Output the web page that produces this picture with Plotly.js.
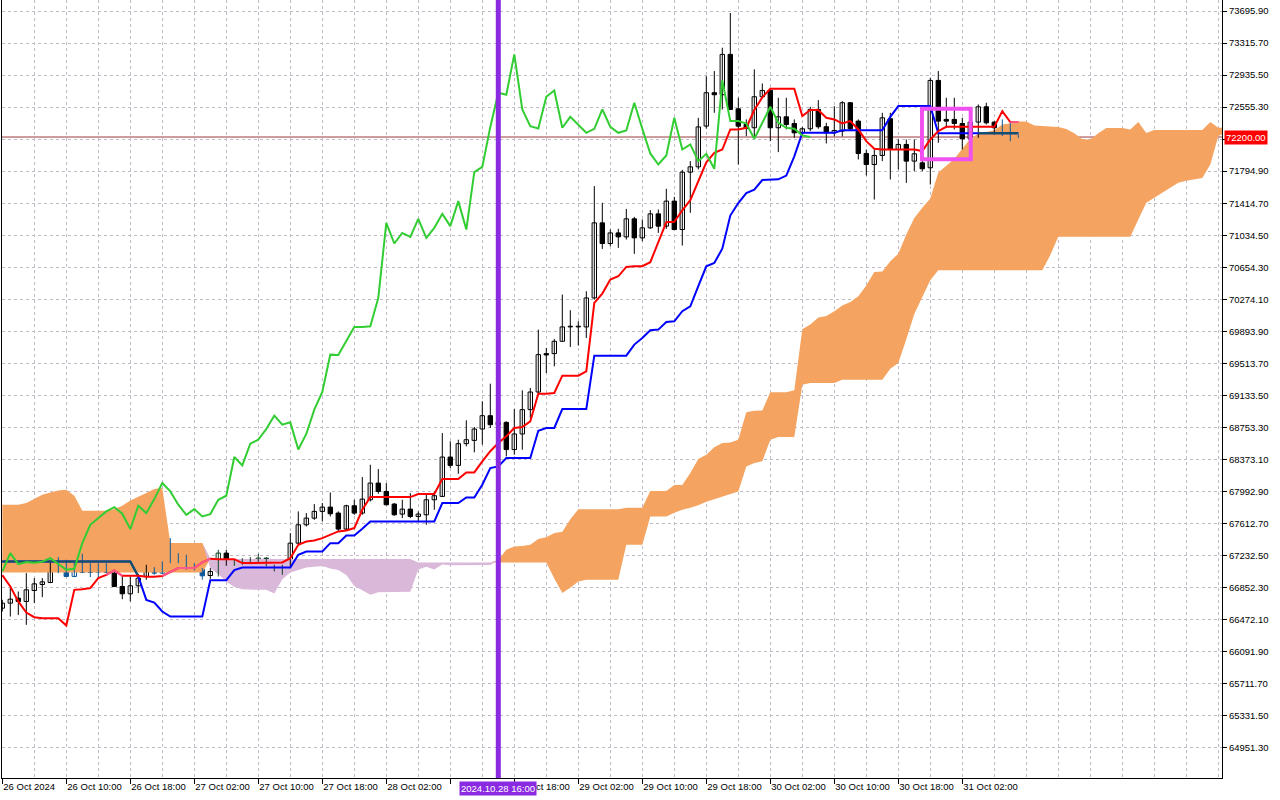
<!DOCTYPE html>
<html><head><meta charset="utf-8">
<script src="https://cdn.plot.ly/plotly-3.0.1.min.js"></script>
<style>html,body{margin:0;padding:0;background:#fff}#chart{width:1280px;height:800px}</style>
</head><body><div id="chart"></div>
<script>
// ---- BTC hourly candles, 26 Oct 2024 02:00 onwards (bar index 0..127) ----
const opens = [66607,66667,66726,66687,66817,66888,66912,67102,67150,66984,
67110,67039,67035,67118,67023,66865,66778,66873,66984,67055,
67023,67150,67253,67162,67110,67071,66995,67035,67261,67130,
67162,67173,67173,67201,67094,67102,67102,67379,67597,67676,
67756,67807,67736,67546,67823,67736,67894,68092,67993,67843,
67724,67783,67696,67716,67894,67934,68401,68302,68560,68599,
68734,68892,68785,68813,68490,68675,68964,69173,69629,69629,
69775,69946,69946,69946,70290,71181,70936,71062,71015,71229,
71003,71122,71288,71142,71439,71102,71783,71846,72330,72726,
72702,73181,72535,72349,72310,72678,72753,72310,72440,72361,
72250,72298,72528,72322,72250,72270,72607,72389,72005,71874,
71981,72417,72052,72112,71914,71894,71835,72872,72409,72409,
72361,72179,72377,72559,72377,72290,72298,72219];
const highs = [66706,66845,66805,67023,66964,66964,67150,67213,67182,67150,
67253,67142,67142,67142,67055,66984,66984,67015,67122,67094,
67162,67439,67261,67241,67142,67083,67083,67300,67300,67189,
67201,67213,67253,67213,67122,67122,67498,67756,67736,67843,
67855,67981,67756,67835,67894,68164,68310,68259,68092,67855,
67894,67973,67756,67953,67993,68686,68587,68607,68837,68758,
69063,69272,68950,68825,68971,69193,69221,69914,69696,69803,
70330,70144,70013,70369,71617,71419,71102,71110,71347,71252,
71221,71332,71340,71585,71490,71810,71914,72428,72923,72983,
73260,73672,72666,72409,73003,72836,72785,72666,72666,72409,
72321,72559,72638,72369,72567,72626,72615,72409,72052,72052,
72488,72488,72171,72171,72171,72013,72904,72983,72666,72666,
72428,72400,72587,72607,72389,72409,72369,72230];
const lows = [66568,66508,66528,66409,66667,66738,66904,67023,66976,66976,
67023,66976,66964,67023,66857,66714,66687,66786,66944,67003,
67015,67142,67142,67063,67055,66944,66956,66983,67110,67110,
67122,67130,67150,67102,67043,67003,67083,67360,67577,67656,
67637,67696,67518,67530,67716,67716,67874,67966,67827,67704,
67676,67676,67637,67597,67775,67926,68270,68203,68528,68457,
68548,68746,68700,68409,68429,68488,68864,69161,69399,69478,
69775,69708,69724,69815,70270,70872,70904,70884,70983,70813,
70963,71110,71062,71110,71094,70912,71300,71815,72300,72488,
72527,72527,71874,72211,72191,72666,72151,72021,72290,72191,
72211,72270,72298,72124,72207,72207,72270,71934,71743,71458,
71914,71696,71815,71656,71795,71795,71636,72131,72310,72290,
72052,72100,72191,72349,72230,72211,72151,72190];
const closes = [66667,66714,66687,66825,66896,66920,67110,67094,66984,67102,
67031,67031,67118,67031,66865,66778,66873,66964,67043,67023,
67150,67253,67150,67094,67071,66991,67043,67261,67130,67154,
67146,67158,67201,67134,67063,67075,67379,67597,67676,67756,
67807,67728,67546,67823,67736,67902,68092,67993,67835,67716,
67783,67696,67724,67894,67942,68401,68302,68560,68607,68734,
68892,68785,68813,68490,68675,68964,69173,69617,69613,69775,
69946,69946,69954,70290,71181,70936,71062,71015,71229,71003,
71122,71288,71142,71439,71102,71783,71846,72320,72726,72702,
73181,72527,72329,72302,72678,72753,72310,72440,72349,72250,
72298,72528,72322,72250,72278,72607,72298,72005,71874,71981,
72428,72052,72112,71914,72001,71823,72872,72389,72389,72361,
72179,72377,72559,72369,72310,72298,72219,72200];

// ---- Ichimoku lines ----
const tenkan = [66999,66865,66687,66556,66500,66488,66488,66488,66401,66825,
66833,66845,66964,67003,67055,66991,66991,66991,66980,66980,
66990,67040,67083,67083,67083,67150,67195,67189,67189,67189,
67142,67142,67142,67142,67142,67150,67201,67360,67399,67411,
67439,67478,67518,67530,67558,67775,67926,67926,67926,67926,
67926,67926,67962,67962,67962,68140,68140,68140,68219,68219,
68350,68470,68567,68647,68746,68758,68825,69154,69154,69161,
69367,69367,69367,69419,70231,70342,70508,70547,70658,70666,
70666,70714,70963,71189,71193,71330,71450,71680,71900,72013,
72052,72290,72290,72310,72520,72670,72773,72773,72773,72773,
72448,72520,72520,72429,72409,72361,72389,72290,72151,72060,
72052,72052,72052,72052,72052,72033,72171,72270,72321,72321,
72321,72321,72321,72321,72321,72508,72377,72377];
const kijun = [67162,67162,67162,67162,67162,67162,67162,67162,67162,67162,
67162,67162,67162,67162,67162,67162,67162,66984,66706,66674,
66568,66508,66508,66508,66508,66508,66940,66940,66940,67060,
67090,67090,67090,67090,67090,67090,67090,67241,67280,67280,
67280,67379,67379,67471,67471,67550,67637,67637,67637,67637,
67637,67637,67637,67637,67637,67855,67855,67855,67922,67922,
68072,68270,68290,68389,68389,68389,68389,68714,68746,68746,
68971,68971,68971,68971,69605,69605,69605,69605,69605,69736,
69815,69906,69914,70005,70013,70132,70191,70429,70666,70706,
70874,71268,71416,71535,71575,71690,71690,71698,71743,71971,
72250,72250,72250,72250,72250,72280,72280,72280,72280,72280,
72280,72440,72567,72567,72567,72567,72567,72245,72245,72245,
72245,72245,72245,72245,72245,72245,72245,72245];
// Senkou spans, bar index 0..153 (26 bars projected ahead)
const senkouA = [67835,67835,67835,67855,67902,67954,67981,68005,68013,67942,
67764,67764,67764,67764,67783,67823,67886,67926,67974,68021,
68033,67380,67380,67380,67380,67380,67080,67013,66925,66859,
66831,66825,66825,66825,66782,66950,67030,67060,67090,67100,
67108,67077,67060,67000,66870,66820,66766,66796,66796,66796,
66796,66801,67065,67100,67065,67125,67116,67116,67116,67116,
67120,67120,67180,67300,67340,67345,67360,67428,67448,67500,
67515,67662,67781,67781,67781,67781,67781,67781,67800,67800,
67800,67997,67997,67997,68070,68070,68211,68379,68428,68518,
68567,68573,68607,68934,68950,68953,69169,69169,69169,69195,
69918,69974,70057,70076,70132,70201,70241,70310,70439,70597,
70603,70726,70815,71043,71240,71360,71470,71780,71860,71940,
72060,72180,72240,72260,72280,72350,72360,72383,72383,72337,
72331,72324,72320,72294,72245,72175,72171,72246,72306,72306,
72306,72290,72379,72248,72283,72283,72283,72283,72283,72283,
72283,72377,72311,72311];
const senkouB = [67031,67031,67031,67031,67031,67031,67031,67031,67031,67031,
67031,67031,67031,67031,67031,67031,67031,67031,67031,67031,
67031,67031,67031,67031,67031,67031,67190,67190,67190,67190,
67190,67190,67190,67190,67190,67190,67190,67190,67190,67190,
67190,67190,67190,67190,67190,67190,67190,67190,67190,67190,
67190,67190,67150,67150,67150,67150,67150,67150,67150,67150,
67150,67150,67150,67150,67150,67150,67150,67150,67150,66960,
66786,66850,66924,66944,66944,66944,66944,66944,67360,67360,
67360,67696,67696,67696,67740,67776,67800,67830,67870,67900,
67930,67960,67993,68290,68330,68350,68607,68640,68640,68640,
69260,69280,69280,69280,69280,69320,69320,69320,69320,69320,
69320,69450,69518,69800,70100,70300,70500,70620,70620,70620,
70620,70620,70620,70620,70620,70620,70620,70620,70620,70620,
70620,70800,71016,71016,71016,71016,71016,71016,71016,71016,
71016,71016,71221,71419,71480,71537,71600,71656,71680,71700,
71715,71874,72211,72250];
const chikouShift = 26;

// ---- axis labels ----
const timeTickBars = [0,8,16,24,32,40,48,56,64,72,80,88,96,104,112,120];
const timeTickText = ["26 Oct 2024","26 Oct 10:00","26 Oct 18:00","27 Oct 02:00","27 Oct 10:00","27 Oct 18:00",
"28 Oct 02:00","","28 Oct 18:00","29 Oct 02:00","29 Oct 10:00","29 Oct 18:00",
"30 Oct 02:00","30 Oct 10:00","30 Oct 18:00","31 Oct 02:00"];
const priceTicks = [73695.90,73315.70,72935.50,72555.30,72175.10,71794.90,71414.70,71034.50,70654.30,70274.10,
69893.90,69513.70,69133.50,68753.30,68373.10,67992.90,67612.70,67232.50,66852.30,66472.10,66091.90,65711.70,65331.50,64951.30];
const priceTickText = ["73695.90","73315.70","72935.50","72555.30","","71794.90","71414.70","71034.50","70654.30","70274.10",
"69893.90","69513.70","69133.50","68753.30","68373.10","67992.90","67612.70","67232.50","66852.30","66472.10","66091.90","65711.70","65331.50","64951.30"];
const currentPrice = 72200.00;
const markerBar = 62; const markerLabel = "2024.10.28 16:00";
const highlightBox = {bar0:114.96, bar1:121.05, price0:71937, price1:72536};

// ---- build ----
const n = closes.length, nc = senkouA.length;
const xs = Array.from({length:n},(_,i)=>i);
const xc = Array.from({length:nc},(_,i)=>i);
const upper = senkouA.map((a,i)=>Math.max(a,senkouB[i]));
const inOrange = (i,v)=> i>=0 && i<nc && senkouA[i]>senkouB[i] && v<=senkouA[i] && v>=senkouB[i];
const inPink = (i,v)=> i>=0 && i<nc && senkouB[i]>senkouA[i] && v<=senkouB[i] && v>=senkouA[i];

const BLUE='#0a5a9c', DKGREEN='#123f22';
const wk={x:[],y:[]}, wb={x:[],y:[]}, wg={x:[],y:[]};
const base=[],hgt=[],fill=[],lcol=[];
for(let i=0;i<n;i++){
  const o=opens[i],c=closes[i],m=(o+c)/2;
  const inO=inOrange(i,m), inP=!inO&&inPink(i,m);
  const w = inO?wb:(inP?wg:wk);
  w.x.push(i,i,null); w.y.push(lows[i],highs[i],null);
  base.push(Math.min(o,c)); hgt.push(Math.max(Math.abs(c-o),8));
  const col = inO?BLUE:(inP?DKGREEN:'#000000');
  lcol.push(col);
  fill.push(c>=o?'#ffffff':col);
}
function overlay(arr){
  const ins=arr.map((v,i)=>inOrange(i,v));
  return arr.map((v,i)=>(ins[i]||ins[i-1]||ins[i+1])?v:null);
}
const chX = xs.slice(0,n-chikouShift);
const chY = closes.slice(chikouShift);

const NOLINE={width:0,color:'rgba(0,0,0,0)'};
const traces = [
  {x:xc,y:senkouB,mode:'lines',line:NOLINE,hoverinfo:'skip'},
  {x:xc,y:upper,mode:'lines',line:NOLINE,fill:'tonexty',fillcolor:'#F4A460',hoverinfo:'skip'},
  {x:xc,y:senkouA,mode:'lines',line:NOLINE,hoverinfo:'skip'},
  {x:xc,y:upper,mode:'lines',line:NOLINE,fill:'tonexty',fillcolor:'#dab8da',hoverinfo:'skip'},
  {x:wk.x,y:wk.y,mode:'lines',line:{color:'#000000',width:1},hoverinfo:'skip'},
  {x:wb.x,y:wb.y,mode:'lines',line:{color:BLUE,width:1},hoverinfo:'skip'},
  {x:wg.x,y:wg.y,mode:'lines',line:{color:DKGREEN,width:1},hoverinfo:'skip'},
  {type:'bar',x:xs,y:hgt,base:base,width:0.55,marker:{color:fill,line:{color:lcol,width:1}},hoverinfo:'skip'},
  {x:xs,y:kijun,mode:'lines',line:{color:'#0000ff',width:2},hoverinfo:'skip'},
  {x:xs,y:overlay(kijun),mode:'lines',connectgaps:false,line:{color:'#0b5560',width:2},hoverinfo:'skip'},
  {x:xs,y:tenkan,mode:'lines',line:{color:'#ff0000',width:2},hoverinfo:'skip'},
  {x:xs,y:overlay(tenkan),mode:'lines',connectgaps:false,line:{color:'#ff5a8c',width:2},hoverinfo:'skip'},
  {x:chX,y:chY,mode:'lines',line:{color:'#32CD32',width:2},hoverinfo:'skip'}
];

const minorBars=[]; for(let b=4;b<=152;b+=4){ if(!timeTickBars.includes(b)) minorBars.push(b); }
const GRID='#c2bac6';
const FONT={family:'"Liberation Sans", Arial, sans-serif',size:9.5,color:'#000'};
const layout = {
  width:1280,height:800,
  margin:{l:2,r:58,t:0,b:22,pad:0},
  paper_bgcolor:'#ffffff',plot_bgcolor:'#ffffff',
  showlegend:false,barmode:'overlay',
  font:FONT,
  xaxis:{range:[-0.0375,152.4625],tickmode:'array',tickvals:timeTickBars,ticktext:timeTickText,
    ticks:'outside',ticklen:5,tickcolor:'#000',tickfont:FONT,ticklabelposition:'outside right',
    showgrid:true,gridcolor:GRID,griddash:'3px,3px',gridwidth:1,
    minor:{tickmode:'array',tickvals:minorBars,showgrid:true,gridcolor:GRID,griddash:'3px,3px',ticks:''},
    showline:true,linecolor:'#000',linewidth:1,zeroline:false,fixedrange:true},
  yaxis:{range:[64591.3,73826.6],side:'right',tickmode:'array',tickvals:priceTicks,ticktext:priceTickText,
    ticks:'outside',ticklen:4,tickcolor:'#000',tickfont:FONT,
    showgrid:true,gridcolor:GRID,griddash:'3px,3px',gridwidth:1,
    showline:true,linecolor:'#000',linewidth:1,mirror:true,zeroline:false,fixedrange:true},
  shapes:[
    {type:'line',xref:'paper',x0:0,x1:1,yref:'y',y0:currentPrice,y1:currentPrice,line:{color:'#993838',width:1},layer:'below'},
    {type:'line',xref:'x',x0:markerBar,x1:markerBar,yref:'paper',y0:0,y1:1,line:{color:'#8a2be2',width:5},layer:'above'},
    {type:'rect',xref:'x',x0:highlightBox.bar0,x1:highlightBox.bar1,yref:'y',y0:highlightBox.price0,y1:highlightBox.price1,
      line:{color:'#f050f0',width:4},fillcolor:'rgba(0,0,0,0)',layer:'above'}
  ],
  annotations:[
    {xref:'paper',x:1,xanchor:'left',xshift:2,yref:'y',y:currentPrice,yanchor:'middle',text:currentPrice.toFixed(2),
     showarrow:false,bgcolor:'#ff0000',font:{family:FONT.family,size:9.5,color:'#ffffff'},borderpad:1},
    {xref:'x',x:markerBar,xanchor:'center',yref:'paper',y:0,yanchor:'top',yshift:-3,text:markerLabel,
     showarrow:false,bgcolor:'#8a2be2',font:{family:FONT.family,size:9.5,color:'#ffffff'},borderpad:1}
  ]
};
Plotly.newPlot('chart',traces,layout,{staticPlot:true,displayModeBar:false});
</script></body></html>
